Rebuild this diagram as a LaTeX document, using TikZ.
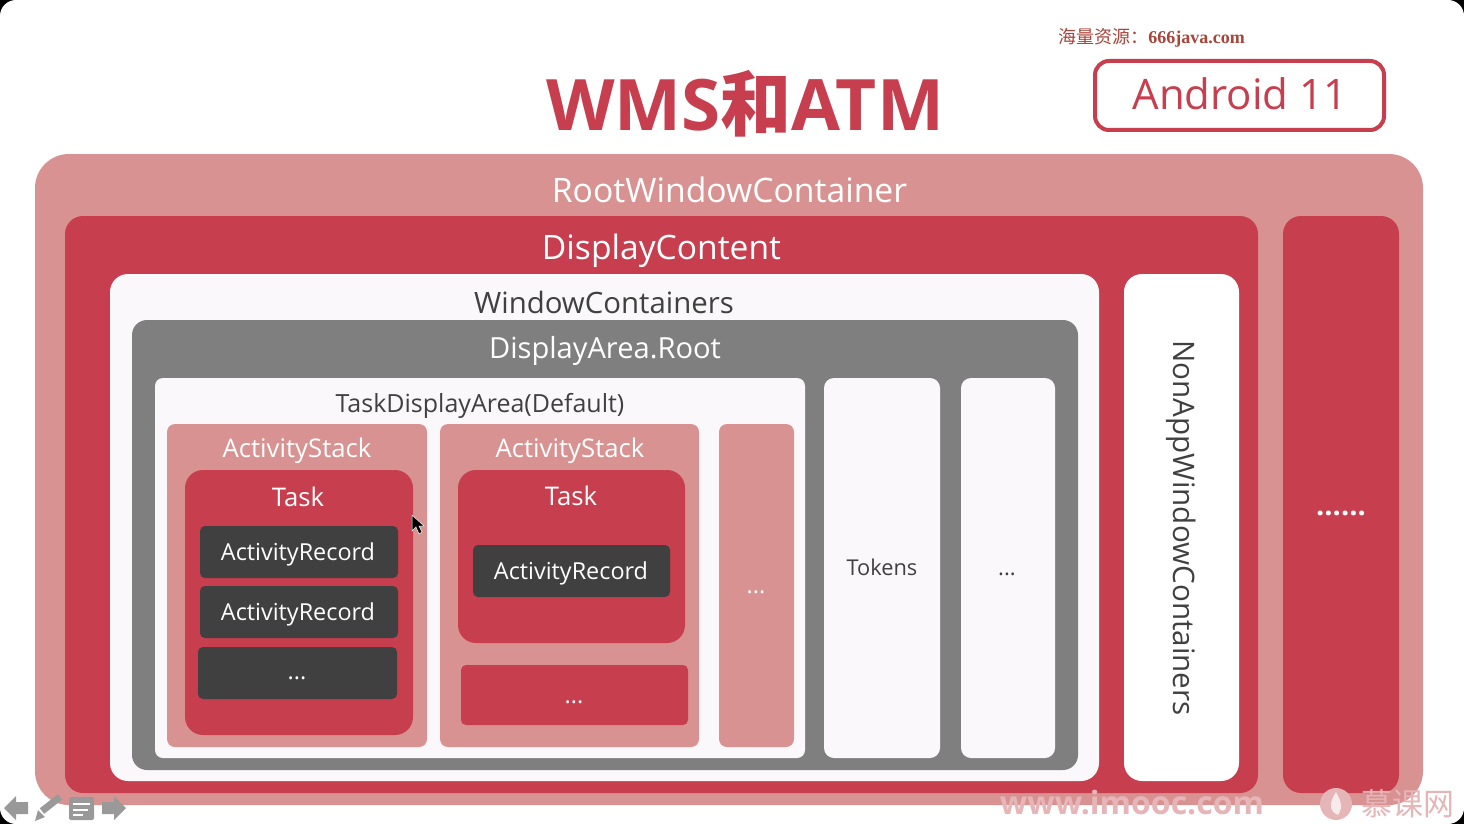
\documentclass[tikz,border=0pt]{standalone}
\usepackage{fontspec}
\setmainfont{Open Sans}
\newfontfamily\cjk{Noto Sans CJK SC}
\newfontfamily\serifcn{Liberation Serif}
\usepackage{xcolor}
\usetikzlibrary{positioning}
\definecolor{rootpink}{HTML}{D89292}
\definecolor{wmsred}{HTML}{C73E4E}
\definecolor{paper}{HTML}{FBF8FC}
\definecolor{areagray}{HTML}{7F7F7F}
\definecolor{recdark}{HTML}{404040}
\definecolor{navgray}{HTML}{999999}
\definecolor{markpink}{HTML}{E6B5B8}
\definecolor{sourcered}{HTML}{A8443A}
\newcommand{\fs}[1]{\fontsize{#1}{#1}\selectfont}
\tikzset{
  box/.style={rounded corners=#1},
  lbl/.style={inner sep=0pt,text=white},
  lbldark/.style={inner sep=0pt,text=recdark},
  wmark/.style={inner sep=0pt,text=markpink},
}
\begin{document}
\begin{tikzpicture}[x=1pt,y=-1pt]
  \useasboundingbox (0,0) rectangle (1464,824);
  \fill[black] (0,0) rectangle (1464,824);
  \fill[white,box=16pt] (0,0) rectangle (1464,824);
  % outer containers
  \fill[rootpink,box=34pt] (35,154) rectangle (1423,805);
  \fill[wmsred,box=18pt] (65,216) rectangle (1258,793);
  \fill[wmsred,box=18pt] (1283,216) rectangle (1399,793);
  \fill[paper,box=18pt] (110,274) rectangle (1099,781);
  \fill[white,box=18pt] (1124,274) rectangle (1239,781);
  \fill[areagray,box=15pt] (132,320) rectangle (1078,770);
  \fill[paper,box=8pt] (155,378) rectangle (805,758);
  \fill[paper,box=10pt] (824,378) rectangle (940,758);
  \fill[paper,box=10pt] (961,378) rectangle (1055,758);
  % stacks
  \fill[rootpink,box=8pt] (167,424) rectangle (427,747);
  \fill[rootpink,box=8pt] (440,424) rectangle (699,747);
  \fill[rootpink,box=8pt] (719,424) rectangle (794,747);
  \fill[wmsred,box=18pt] (185,470) rectangle (413,735);
  \fill[wmsred,box=18pt] (458,470) rectangle (685,643);
  \fill[wmsred,box=5pt] (461,665) rectangle (688,725);
  \fill[recdark,box=5pt] (200,526) rectangle (398,578);
  \fill[recdark,box=5pt] (200,586) rectangle (398,638);
  \fill[recdark,box=5pt] (198,647) rectangle (397,699);
  \fill[recdark,box=5pt] (473,545) rectangle (670,597);
  % header
  \node[inner sep=0pt,text=wmsred,font=\fs{71}\bfseries] (title) at (745,103.5) {WMS{\cjk 和}ATM};
  \draw[wmsred,line width=4pt,box=14pt] (1095,61) rectangle (1384,130);
  \node[inner sep=0pt,text=wmsred,font=\fs{42}] (android) at (1240,94) {Android 11};
  \node[inner sep=0pt,text=sourcered,font=\fs{18}] (source) at (1151.5,37.5) {{\cjk 海量资源：}{\serifcn\bfseries 666java.com}};
  % labels
  \node[lbl,font=\fs{33.7}] (rootlbl) at (729.5,190) {RootWindowContainer};
  \node[lbl,font=\fs{33.6}] (displbl) at (661.5,251) {DisplayContent};
  \node[lbldark,font=\fs{29.4}] (winlbl) at (604,302) {WindowContainers};
  \node[lbl,font=\fs{29.1}] (arealbl) at (605,351) {DisplayArea.Root};
  \node[lbldark,font=\fs{25}] (tasklbl) at (480,406) {TaskDisplayArea(Default)};
  \node[lbl,font=\fs{25.7}] (stacka) at (297,451) {ActivityStack};
  \node[lbl,font=\fs{25.7}] (stackb) at (570,451) {ActivityStack};
  \node[lbl,font=\fs{25.7}] (taska) at (298,497) {Task};
  \node[lbl,font=\fs{25.7}] (taskb) at (571,496) {Task};
  \node[lbl,font=\fs{23.4}] (reca) at (298,554) {ActivityRecord};
  \node[lbl,font=\fs{23.4}] (recb) at (298,614) {ActivityRecord};
  \node[lbl,font=\fs{23.4}] (recc) at (297,678) {...};
  \node[lbl,font=\fs{23.4}] (recd) at (571,573) {ActivityRecord};
  \node[lbl,font=\fs{23.4}] (taskmore) at (574,702) {...};
  \node[lbl,font=\fs{23.4}] (stackmore) at (756,592) {...};
  \node[lbldark,font=\fs{21.8}] (tokens) at (882,567) {Tokens};
  \node[lbldark,font=\fs{22}] (areamore) at (1007,574) {...};
  \node[lbldark,font=\fs{29.6},rotate=-90] (nonapp) at (1181,528) {NonAppWindowContainers};
  \node[lbl,font=\fs{29}\bfseries] (dispmore) at (1341,513) {......};
  % cursor
  \fill[black,draw=white,line width=0.5pt] (412,515) -- (412,531) -- (416,527) -- (419,534) -- (422,532) -- (419,526) -- (424,526) -- cycle;
  % player buttons
  \fill[navgray] (4,808) -- (16,796) -- (16,802) -- (28,802) -- (28,814) -- (16,814) -- (16,820) -- cycle;
  \draw[navgray,line width=7pt] (42,811) -- (60,797);
  \fill[navgray] (35,821) -- (38,810) -- (45,817) -- cycle;
  \fill[navgray,box=2pt] (69,797) rectangle (94,820);
  \draw[white,line width=2pt] (73,804) -- (90,804);
  \draw[white,line width=1.5pt] (73,810) -- (88,810) (73,815) -- (83,815);
  \fill[navgray] (126,808) -- (114,796) -- (114,802) -- (102,802) -- (102,814) -- (114,814) -- (114,820) -- cycle;
  % watermark
  \node[wmark,font=\fs{32}\bfseries] (mark) at (1132,803) {www.imooc.com};
  \fill[markpink] (1336,804) circle (16);
  \fill[white!70!markpink] (1336,792) .. controls (1340,800) and (1344,806) .. (1338,815) .. controls (1330,812) and (1328,804) .. (1336,792);
  \node[wmark,font=\fs{31}\cjk] (markcn) at (1408,804) {慕课网};
\end{tikzpicture}
\end{document}
